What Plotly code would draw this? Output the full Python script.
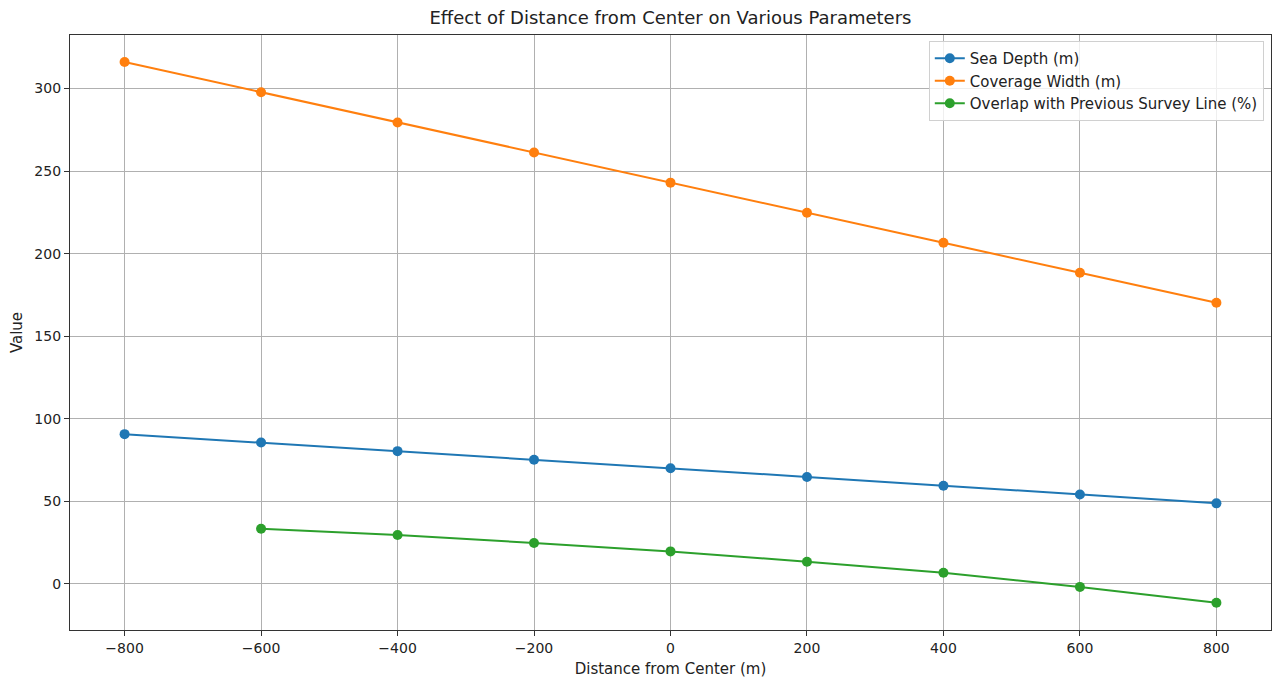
import plotly.graph_objects as go

distance = [-800, -600, -400, -200, 0, 200, 400, 600, 800]
sea_depth = [90.7, 85.6, 80.4, 75.2, 70.0, 64.8, 59.5, 54.2, 48.8]
coverage_width = [316.0, 297.7, 279.4, 261.2, 243.0, 224.8, 206.6, 188.4, 170.3]
overlap_x = [-600, -400, -200, 0, 200, 400, 600, 800]
overlap = [33.4, 29.6, 24.8, 19.7, 13.4, 6.8, -1.8, -11.4]

x_ticks = [-800, -600, -400, -200, 0, 200, 400, 600, 800]
y_ticks = [0, 50, 100, 150, 200, 250, 300]

FONT = "DejaVu Sans"
TXT = "#222222"
fig = go.Figure()
for xs, ys, name, color in [
    (distance, sea_depth, "Sea Depth (m)", "#1f77b4"),
    (distance, coverage_width, "Coverage Width (m)", "#ff7f0e"),
    (overlap_x, overlap, "Overlap with Previous Survey Line (%)", "#2ca02c"),
]:
    fig.add_trace(go.Scatter(x=xs, y=ys, name=name, mode="lines+markers",
                             line=dict(color=color, width=2),
                             marker=dict(color=color, size=10)))

axis_common = dict(showgrid=True, gridcolor="#b0b0b0", gridwidth=1,
                   zeroline=False, showline=True, linecolor="#333333", linewidth=1.3,
                   mirror=True, ticks="outside", ticklen=5, tickcolor="#333333",
                   tickfont=dict(family=FONT, size=14, color=TXT))

fig.update_layout(
    width=1272, height=679,
    paper_bgcolor="white", plot_bgcolor="white",
    margin=dict(l=70, r=1, t=35, b=49),
    title=dict(text="Effect of Distance from Center on Various Parameters",
               x=0.5, xanchor="center", xref="paper", y=1 - 18 / 679, yanchor="middle",
               font=dict(family=FONT, size=18, color=TXT)),
    xaxis=dict(range=[-880, 880], tickvals=x_ticks,
               title=dict(text="Distance from Center (m)", standoff=8,
                          font=dict(family=FONT, size=15, color=TXT)),
               **axis_common),
    yaxis=dict(range=[-27.9, 332.4], tickvals=y_ticks,
               title=dict(text="Value", standoff=8,
                          font=dict(family=FONT, size=15, color=TXT)),
               **axis_common),
    legend=dict(x=0.994, y=0.99, xanchor="right", yanchor="top",
                bgcolor="rgba(255,255,255,0.8)", bordercolor="#d0d0d0", borderwidth=1,
                font=dict(family=FONT, size=15, color=TXT),
                itemwidth=30, tracegroupgap=0),
    showlegend=True,
)

fig.write_html("out.html", config={"displayModeBar": False},
               post_script="document.body.style.margin='0';document.body.style.overflow='hidden';")
